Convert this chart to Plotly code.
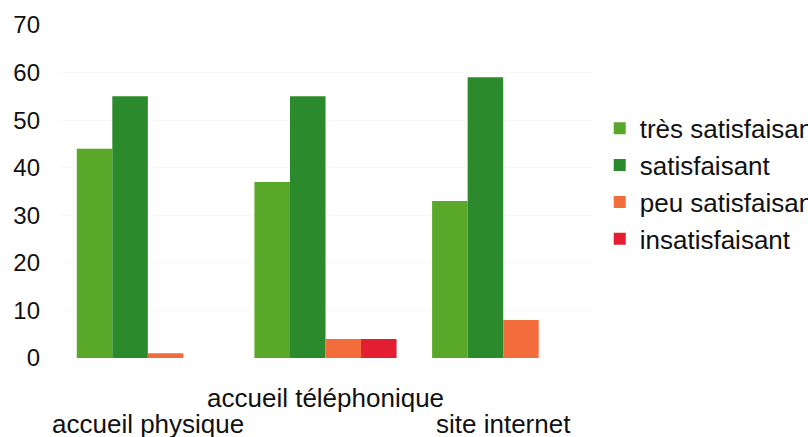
import plotly.graph_objects as go

# Survey results per contact channel (percent of respondents)
categories = ["accueil physique", "accueil téléphonique", "site internet"]
series_names = ["très satisfaisant", "satisfaisant", "peu satisfaisant", "insatisfaisant"]
tres_satisfaisant = [44, 37, 33]
satisfaisant = [55, 55, 59]
peu_satisfaisant = [1, 4, 8]
insatisfaisant = [0, 4, 0]
y_ticks = [0, 10, 20, 30, 40, 50, 60, 70]

colors = ["#5aa82a", "#2b8a2b", "#f26d3b", "#e31e32"]
values = [tres_satisfaisant, satisfaisant, peu_satisfaisant, insatisfaisant]

FONT = "Liberation Sans, Arial, sans-serif"
SIZE = 26

fig = go.Figure()
for name, vals, col in zip(series_names, values, colors):
    fig.add_trace(go.Bar(x=categories, y=vals, name=name, marker=dict(color=col, line=dict(width=0))))

# Staggered category labels: middle label sits higher than the outer ones
shifts = [-66, -40, -66]
for cat, s in zip(categories, shifts):
    fig.add_annotation(x=cat, xref="x", y=0, yref="paper", yanchor="middle",
                       text=cat, showarrow=False, yshift=s,
                       font=dict(family=FONT, size=SIZE, color="#111111"))

fig.update_layout(
    width=808, height=437,
    margin=dict(l=59, r=216, t=25, b=79, autoexpand=False),
    paper_bgcolor="white", plot_bgcolor="white",
    barmode="group", bargap=0.2, bargroupgap=0,
    font=dict(family=FONT, size=SIZE, color="#111111"),
    xaxis=dict(range=[-0.5, 2.5], showticklabels=False, showgrid=False,
               zeroline=False, showline=False),
    yaxis=dict(range=[0, 70], tickvals=y_ticks, showgrid=True, gridcolor="#f8f8f8",
               zeroline=False, showline=False, ticks="", ticklabelstandoff=18,
               tickfont=dict(family=FONT, size=24, color="#111111")),
    legend=dict(x=0.0145, y=0.76, xref="paper", xanchor="left", yanchor="top",
                font=dict(family=FONT, size=SIZE, color="#111111"),
                tracegroupgap=0, itemsizing="constant", bgcolor="rgba(0,0,0,0)"),
    showlegend=True,
)
# legend sits just right of the plot area
fig.update_layout(legend_x=1.0145)

fig.write_html("out.html")
